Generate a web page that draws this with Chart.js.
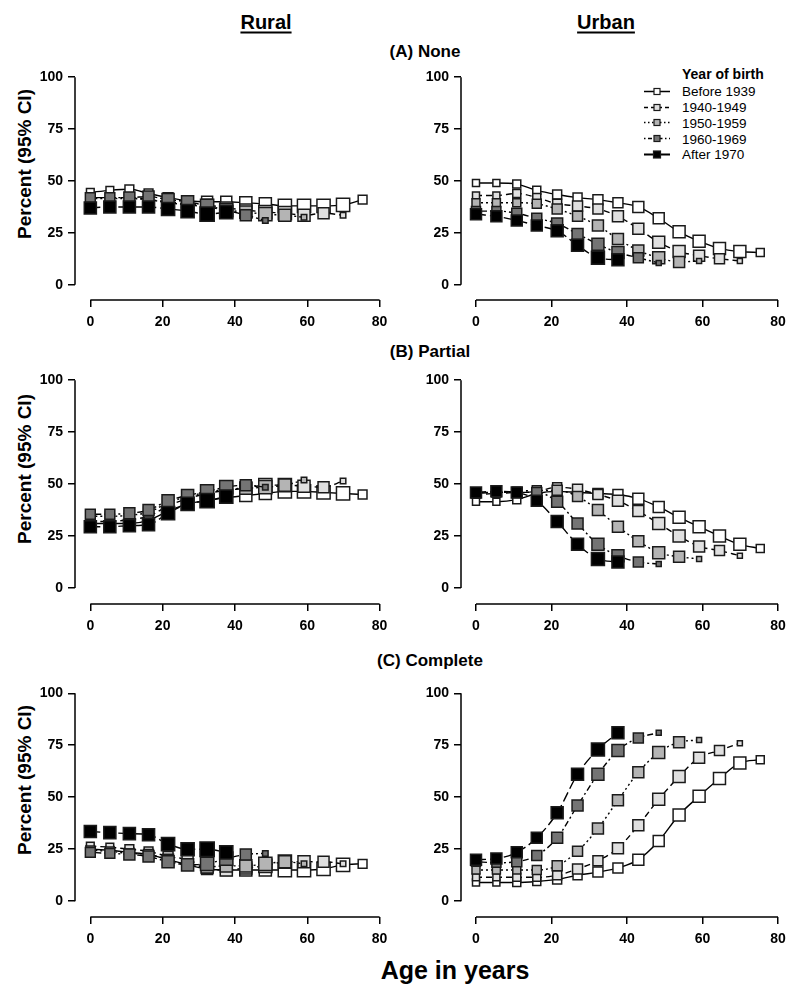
<!DOCTYPE html>
<html>
<head>
<meta charset="utf-8">
<script src="https://cdn.jsdelivr.net/npm/chart.js@4.4.1/dist/chart.umd.min.js"></script>
<style>
  body { margin: 0; background: #fff; width: 800px; height: 997px; position: relative; overflow: hidden;
         font-family: "Liberation Sans", Arial, sans-serif; color: #000; }
  canvas { position: absolute; }
  .t { position: absolute; font-weight: bold; white-space: nowrap; transform: translate(-50%, -50%); }
  .u { text-decoration: underline; text-decoration-thickness: 2px; text-underline-offset: 3px; }
  .yt { position: absolute; font-weight: bold; font-size: 19px; white-space: nowrap;
        transform: translate(-50%, -50%) rotate(-90deg); }
  .lg { position: absolute; white-space: nowrap; transform: translateY(-50%); font-size: 13.5px; }
  .lg svg { position: absolute; left: -38px; top: 50%; transform: translateY(-50%); }
</style>
</head>
<body>
<div class="t u" style="left:266px;top:22px;font-size:20px">Rural</div>
<div class="t u" style="left:606px;top:22px;font-size:20px">Urban</div>
<div class="t" style="left:425px;top:52px;font-size:17px">(A) None</div>
<div class="t" style="left:430px;top:352px;font-size:17px">(B) Partial</div>
<div class="t" style="left:430px;top:661px;font-size:17px">(C) Complete</div>
<div class="t" style="left:455px;top:970px;font-size:25px">Age in years</div>
<div class="yt" style="left:25px;top:164px">Percent (95% CI)</div>
<div class="yt" style="left:25px;top:469px">Percent (95% CI)</div>
<div class="yt" style="left:25px;top:780px">Percent (95% CI)</div>
<div id="legend"></div>

<canvas id="ra"></canvas>
<canvas id="ua"></canvas>
<canvas id="rb"></canvas>
<canvas id="ub"></canvas>
<canvas id="rc"></canvas>
<canvas id="uc"></canvas>

<script>
// ages at which each cohort was measured
const ages = [0, 5.4, 10.8, 16.1, 21.5, 26.9, 32.3, 37.6, 43.0, 48.4, 53.8, 59.1, 64.5, 69.9, 75.3];
const cohorts = ["Before 1939", "1940-1949", "1950-1959", "1960-1969", "After 1970"];
const xTicks = [0, 20, 40, 60, 80];
const yTicks = [0, 25, 50, 75, 100];

// (A) None
const ruralNone = [
  [44.5, 45.5, 46, 44, 42, 40.5, 40, 40, 39.5, 39, 38, 38, 38, 38.5, 41],
  [42, 42, 42, 41, 40, 39, 38.5, 37, 36, 35, 34.5, 33.5, 34.5, 33.5],
  [41.5, 41.5, 41.5, 41, 39.5, 38.5, 37.5, 36, 35, 34, 33.5, 32.5],
  [42, 42, 42, 42.5, 41, 40, 38, 36, 33.5, 31],
  [37, 37.5, 37.5, 37.5, 36.5, 35.5, 34, 35]
];
const urbanNone = [
  [49, 49, 48.5, 45.5, 43.5, 42, 41, 39.5, 37.5, 32, 25.5, 21, 17.5, 16, 15.5],
  [43, 43, 44, 42, 39, 38, 36.5, 33, 27, 20.5, 16, 14, 12.5, 11.5],
  [39.5, 39.5, 39.5, 39, 36.5, 33, 28.5, 22, 16.5, 13, 11, 11.5],
  [35.5, 35.5, 34.5, 32, 29.5, 24.5, 19.5, 15.5, 13, 10.5],
  [34, 33, 31, 28.5, 26, 19, 13, 12]
];
// (B) Partial
const ruralPartial = [
  [31, 31, 31, 32.5, 37, 40.5, 42, 43.5, 44.5, 45.5, 46.5, 46.5, 46, 45.5, 45],
  [32, 32, 33, 34.5, 39.5, 43, 45.5, 47, 48, 49.5, 49.5, 49, 48.5, 51.5],
  [34.5, 34.5, 35, 36.5, 41, 44, 46, 47.5, 48, 48.5, 49.5, 52],
  [35.5, 35.5, 36, 37.5, 42, 44.5, 46.5, 48.5, 49.5, 48.5],
  [29.5, 29.5, 30, 30.5, 36, 40.5, 42, 44]
];
const urbanPartial = [
  [41.5, 41.5, 42.5, 45.5, 46.5, 46, 45.5, 45, 43, 39, 34, 29.5, 25, 21, 19],
  [45, 45.5, 46, 46.5, 48.5, 47.5, 45, 42, 37, 31, 25, 20, 18, 15.5],
  [46, 46, 46.5, 47, 47, 44, 37.5, 29.5, 22.5, 17, 15, 14],
  [45.5, 46, 46, 46, 41.5, 31, 21, 15.5, 12.5, 11.5],
  [46, 46.5, 46, 42, 32, 21, 14, 12.5]
];
// (C) Complete
const ruralComplete = [
  [25, 24.5, 23.5, 22.5, 20, 17.5, 15.5, 15, 15, 15, 15, 15, 15.5, 17.5, 18],
  [26.5, 26, 25, 24, 21.5, 20, 16, 15, 16, 17, 19, 19, 19, 18],
  [24.5, 24, 23, 22.5, 20, 17.5, 16.5, 17, 17, 18, 19, 18],
  [23.5, 23, 22.5, 21.5, 19, 17.5, 18, 20.5, 22.5, 23],
  [33.5, 33, 32.5, 32, 27.5, 25, 25, 23.5]
];
const urbanComplete = [
  [9, 9, 9, 9.5, 10.5, 12.5, 14, 16, 20, 29, 41.5, 50.5, 59, 66.5, 68],
  [11.5, 11.5, 11.5, 11.5, 12.5, 15.5, 19.5, 25.5, 36.5, 49, 60, 69, 72.5, 76],
  [15, 15, 15, 15, 17, 24, 35, 48.5, 62, 71.5, 76.5, 77.5],
  [19, 18.5, 19, 22, 30.5, 46, 61, 72.5, 78.5, 81],
  [20, 20.5, 23.5, 30.5, 42.5, 61, 73, 81]
];

// styles
const fills = ["#ffffff", "#e0e0e0", "#b4b4b4", "#747474", "#000000"];
const dashes = [[], [6, 4], [2, 3], [2, 3, 6, 3], [10, 4]];
const sides = [
  [7, 7, 8, 8, 9, 9, 10, 10, 11, 11, 12, 12, 12, 12, 8],
  [7, 7, 8, 8, 9, 10, 10, 11, 11, 12, 12, 11, 10, 5],
  [8, 8, 8, 9, 10, 10, 11, 11, 11, 12, 11, 5],
  [9, 9, 10, 10, 11, 11, 12, 12, 10, 5],
  [11, 11, 11, 11, 12, 12, 13, 12]
];

Chart.defaults.font.family = '"Liberation Sans", Arial, sans-serif';
Chart.defaults.color = "#000";

// R style detached axes: lines only from first to last tick
const axisLines = {
  id: "axisLines",
  afterDraw(chart) {
    const { ctx, chartArea, scales } = chart;
    ctx.save();
    ctx.strokeStyle = "#000";
    ctx.lineWidth = 1.5;
    ctx.beginPath();
    ctx.moveTo(scales.x.getPixelForValue(0), chartArea.bottom);
    ctx.lineTo(scales.x.getPixelForValue(80), chartArea.bottom);
    ctx.moveTo(chartArea.left, scales.y.getPixelForValue(0));
    ctx.lineTo(chartArea.left, scales.y.getPixelForValue(100));
    ctx.stroke();
    ctx.restore();
  }
};

function buildSets(values, scale) {
  return values.map((vals, i) => ({
    label: cohorts[i],
    data: vals.map((v, k) => ({ x: ages[k], y: v })),
    order: 4 - i,
    borderColor: "#000",
    borderWidth: 1.4,
    borderDash: dashes[i],
    cubicInterpolationMode: "monotone",
    pointStyle: "rect",
    pointRadius: sides[i].slice(0, vals.length).map(s => s * scale / Math.SQRT2),
    pointBackgroundColor: fills[i],
    pointBorderColor: "#1a1a1a",
    pointBorderWidth: 1.5
  }));
}

function makePanel(id, values, g) {
  const canvas = document.getElementById(id);
  const top = g.y100 - 20;
  const bottom = g.axisBottom + 40;
  canvas.width = 400;
  canvas.height = bottom - top;
  canvas.style.left = g.left + "px";
  canvas.style.top = top + "px";

  const pxX = (g.x80 - g.x0) / 80;
  const pxY = (g.y0 - g.y100) / 100;
  const chartRight = g.x80 + 10;

  new Chart(canvas, {
    type: "line",
    data: { datasets: buildSets(values, g.markerScale) },
    options: {
      responsive: false,
      animation: false,
      events: [],
      devicePixelRatio: 1,
      layout: { padding: { top: 10, right: g.left + 400 - chartRight, left: 0, bottom: 0 } },
      plugins: { legend: { display: false }, tooltip: { enabled: false } },
      scales: {
        x: {
          type: "linear",
          min: (g.axisLeft - g.x0) / pxX,
          max: 80 + 10 / pxX,
          afterBuildTicks: s => { s.ticks = xTicks.map(v => ({ value: v })); },
          afterFit: s => { s.height = 40; },
          border: { display: false },
          grid: { drawOnChartArea: false, drawTicks: true, tickLength: 7, color: "#000", lineWidth: 1.5 },
          ticks: { font: { size: 14, weight: "bold" }, padding: 7, maxRotation: 0 }
        },
        y: {
          min: -(g.axisBottom - g.y0) / pxY,
          max: 100 + 10 / pxY,
          afterBuildTicks: s => { s.ticks = yTicks.map(v => ({ value: v })); },
          afterFit: s => { s.width = g.axisLeft - g.left; },
          border: { display: false },
          grid: { drawOnChartArea: false, drawTicks: true, tickLength: 7, color: "#000", lineWidth: 1.5 },
          ticks: { font: { size: 14, weight: "bold" }, padding: 5 }
        }
      }
    },
    plugins: [axisLines]
  });
}

const leftCol = { left: 0, axisLeft: 75, x0: 91, x80: 393, markerScale: 1.1 };
const rightCol = { left: 400, axisLeft: 461, x0: 476, x80: 778, markerScale: 1.0 };
const rowA = { y100: 74.3, y0: 285, axisBottom: 300.5 };
const rowB = { y100: 376.5, y0: 587.7, axisBottom: 604 };
const rowC = { y100: 690, y0: 901, axisBottom: 917 };

makePanel("ra", ruralNone, { ...leftCol, ...rowA });
makePanel("ua", urbanNone, { ...rightCol, ...rowA });
makePanel("rb", ruralPartial, { ...leftCol, ...rowB });
makePanel("ub", urbanPartial, { ...rightCol, ...rowB });
makePanel("rc", ruralComplete, { ...leftCol, ...rowC });
makePanel("uc", urbanComplete, { ...rightCol, ...rowC });

// legend (top right of the urban "None" panel)
const legendRows = [91, 107, 122.5, 138.5, 154];
const legendDash = ["", "4,3", "1.5,2.5", "1.5,2.5,4,2.5", ""];
let html = '<div class="lg" style="left:682px;top:74px;font-weight:bold;font-size:14px">Year of birth</div>';
cohorts.forEach((name, i) => {
  const sz = i === 4 ? 7 : 6;
  html += '<div class="lg" style="left:682px;top:' + legendRows[i] + 'px">' +
    '<svg width="26" height="10" viewBox="0 0 26 10">' +
    '<line x1="0" y1="5" x2="26" y2="5" stroke="#000" stroke-width="' + (i === 4 ? 2 : 1.3) + '"' +
    (legendDash[i] ? ' stroke-dasharray="' + legendDash[i] + '"' : '') + '/>' +
    '<rect x="' + (13 - sz / 2) + '" y="' + (5 - sz / 2) + '" width="' + sz + '" height="' + sz +
    '" fill="' + fills[i] + '" stroke="#1a1a1a" stroke-width="1.2"/></svg>' + name + '</div>';
});
document.getElementById("legend").innerHTML = html;
</script>
</body>
</html>
